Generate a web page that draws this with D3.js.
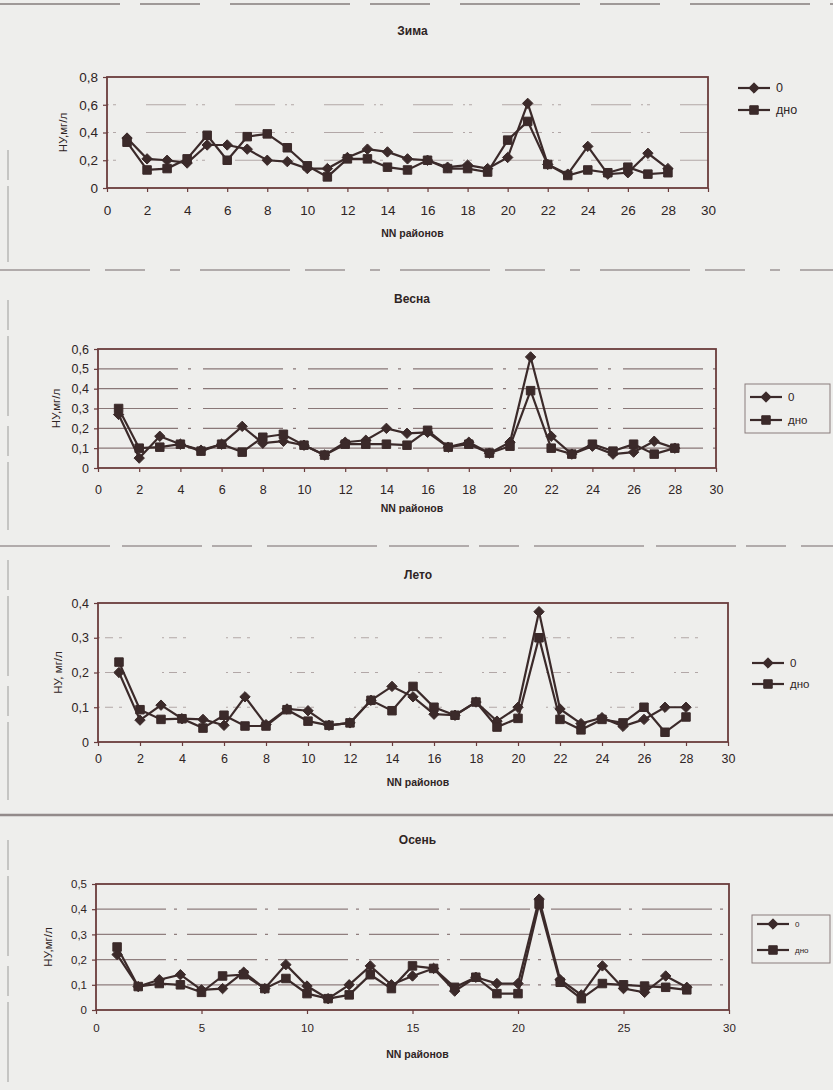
<!DOCTYPE html>
<meta charset="utf-8">
<style>
body, html { margin: 0; padding: 0; background: #eeeeec; }
svg { display: block; }
text { font-family: "Liberation Sans", Arial, sans-serif; fill: #2e2424; }
.title { font-weight: bold; font-size: 12px; }
.xlab { font-weight: bold; font-size: 10.5px; }
.series path.line { fill: none; stroke: #3b2a2a; stroke-width: 2.2; }
.series path.mark { fill: #3b2a2a; stroke: #3b2a2a; }
.frame { fill: none; stroke: #6a3c3c; stroke-width: 1.8; }
</style>
<svg></svg>
<script src="https://d3js.org/d3.v7.min.js"></script>
<script>

var W = 833, H = 1090;

var districts = [1,2,3,4,5,6,7,8,9,10,11,12,13,14,15,16,17,18,19,20,21,22,23,24,25,26,27,28];
var seriesNames = ['0', 'дно'];

// Зима
var zima0   = [0.36,0.21,0.20,0.18,0.31,0.31,0.28,0.20,0.19,0.14,0.14,0.22,0.28,0.26,0.21,0.20,0.15,0.165,0.14,0.22,0.61,0.17,0.10,0.30,0.10,0.11,0.25,0.14];
var zimaDno = [0.33,0.13,0.14,0.21,0.38,0.20,0.37,0.39,0.29,0.16,0.08,0.21,0.21,0.15,0.13,0.20,0.14,0.14,0.115,0.345,0.48,0.17,0.09,0.13,0.11,0.15,0.10,0.11];
// Весна
var vesna0   = [0.27,0.05,0.16,0.12,0.09,0.12,0.21,0.125,0.135,0.115,0.065,0.13,0.14,0.20,0.175,0.18,0.105,0.13,0.075,0.13,0.56,0.16,0.07,0.11,0.07,0.08,0.135,0.10];
var vesnaDno = [0.30,0.10,0.105,0.12,0.085,0.12,0.08,0.155,0.17,0.115,0.065,0.12,0.12,0.12,0.115,0.19,0.105,0.12,0.075,0.11,0.39,0.10,0.07,0.12,0.085,0.12,0.07,0.10];
// Лето
var leto0   = [0.20,0.063,0.106,0.067,0.065,0.048,0.13,0.05,0.095,0.09,0.048,0.055,0.12,0.16,0.13,0.08,0.077,0.115,0.06,0.10,0.375,0.095,0.053,0.07,0.045,0.065,0.10,0.10];
var letoDno = [0.23,0.093,0.065,0.067,0.04,0.077,0.046,0.046,0.093,0.06,0.048,0.055,0.12,0.09,0.16,0.10,0.077,0.115,0.043,0.068,0.30,0.065,0.035,0.065,0.055,0.10,0.028,0.072];
// Осень
var osen0   = [0.22,0.093,0.12,0.14,0.08,0.085,0.15,0.085,0.18,0.095,0.045,0.10,0.175,0.10,0.135,0.165,0.075,0.13,0.105,0.105,0.44,0.12,0.06,0.175,0.085,0.07,0.135,0.09];
var osenDno = [0.25,0.093,0.105,0.10,0.07,0.135,0.14,0.085,0.125,0.065,0.045,0.06,0.14,0.085,0.175,0.165,0.09,0.13,0.065,0.065,0.42,0.11,0.045,0.105,0.10,0.095,0.09,0.08];

var panels = [
  { title: 'Зима', ytitle: 'НУ,мг/л', s0: zima0, s1: zimaDno, yMax: 0.8, yStep: 0.2, xStep: 2,
    box: [107, 77, 708, 188], titleY: 35, xTickY: 213, xLabY: 237, yTitleX: 67, tickSize: 13.5,
    grid: { color: '#9a8a8a', dash: '2,4,3,30,40,10', width: 1, op: 0.7 },
    legend: { x: 738, y0: 88, y1: 110, fs: 12.5, frame: false } },
  { title: 'Весна', ytitle: 'НУ,мг/л', s0: vesna0, s1: vesnaDno, yMax: 0.6, yStep: 0.1, xStep: 2,
    box: [98, 349, 716, 468], titleY: 303, xTickY: 493, xLabY: 512, yTitleX: 60, tickSize: 12.5,
    grid: { color: '#7f6b6b', dash: '80,10,3,12', width: 1.2, op: 0.9 },
    legend: { x: 750, y0: 397, y1: 420, fs: 11.5, frame: [745, 384, 85, 49] } },
  { title: 'Лето', ytitle: 'НУ, мг/л', s0: leto0, s1: letoDno, yMax: 0.4, yStep: 0.1, xStep: 2,
    box: [98, 603, 728, 742], titleY: 579, xTickY: 762, xLabY: 786, yTitleX: 62, tickSize: 12.5,
    grid: { color: '#9a8a8a', dash: '2,5,8,6,3,40', width: 1, op: 0.7 },
    legend: { x: 752, y0: 663, y1: 684, fs: 11.5, frame: false } },
  { title: 'Осень', ytitle: 'НУ,мг/л', s0: osen0, s1: osenDno, yMax: 0.5, yStep: 0.1, xStep: 5,
    box: [96, 884, 729, 1010], titleY: 844, xTickY: 1032, xLabY: 1058, yTitleX: 52, tickSize: 11.5,
    grid: { color: '#7f6b6b', dash: '70,8,3,10', width: 1.2, op: 0.85 },
    legend: { x: 757, y0: 924, y1: 950, fs: 8, frame: [752, 915, 78, 48] } }
];

var svg = d3.select('svg').attr('width', W).attr('height', H);

// page separators from the scan
var seps = [[0, 4, 833, 2, '#8c8484', '120,20,60,30'], [0, 270, 833, 1.5, '#8a8080', '90,15,40,25,10,20'],
            [0, 546, 833, 1.5, '#8a8080', '110,12,80,10,40,15'], [0, 815, 833, 2.5, '#7c7272', null]];
seps.forEach(function (s) {
  svg.append('line').attr('x1', s[0]).attr('x2', s[2]).attr('y1', s[1]).attr('y2', s[1])
    .attr('stroke', s[4]).attr('stroke-width', s[3]).attr('stroke-dasharray', s[5]).attr('opacity', 0.8);
});
[[150, 262], [300, 530], [560, 800], [840, 1088]].forEach(function (v) {
  svg.append('line').attr('x1', 8).attr('x2', 8).attr('y1', v[0]).attr('y2', v[1])
    .attr('stroke', '#888').attr('stroke-width', 1).attr('stroke-dasharray', '30,6,80,10').attr('opacity', 0.8);
});

var fmt = function (v) { return v === 0 ? '0' : d3.format('.1f')(v).replace('.', ','); };
// Excel-style diamond: a square turned 45 degrees
var diamond = 'M0,-5.2L5.2,0L0,5.2L-5.2,0Z';
var square = d3.symbol().type(d3.symbolSquare).size(72)();

panels.forEach(function (p) {
  var g = svg.append('g');
  var x = d3.scaleLinear().domain([0, 30]).range([p.box[0], p.box[2]]);
  var y = d3.scaleLinear().domain([0, p.yMax]).range([p.box[3], p.box[1]]);
  var yTicks = d3.range(0, p.yMax + 1e-9, p.yStep);
  var xTicks = d3.range(0, 30 + 1e-9, p.xStep);
  var cx = (p.box[0] + p.box[2]) / 2;

  g.append('text').attr('class', 'title').attr('x', cx + 5).attr('y', p.titleY)
    .attr('text-anchor', 'middle').text(p.title);

  // gridlines
  g.append('g').selectAll('line').data(yTicks.filter(function (t) { return t > 0 && t < p.yMax - 1e-9; }))
    .enter().append('line')
    .attr('x1', p.box[0]).attr('x2', p.box[2])
    .attr('y1', function (d) { return y(d); }).attr('y2', function (d) { return y(d); })
    .attr('stroke', p.grid.color).attr('stroke-width', p.grid.width)
    .attr('stroke-dasharray', p.grid.dash).attr('opacity', p.grid.op);

  // axes
  var yAxis = d3.axisLeft(y).tickValues(yTicks).tickFormat(fmt).tickSize(4).tickPadding(5);
  var xAxis = d3.axisBottom(x).tickValues(xTicks).tickFormat(d3.format('d')).tickSize(4).tickPadding(p.xTickY - p.box[3] - 12);
  var ya = g.append('g').attr('transform', 'translate(' + p.box[0] + ',0)').call(yAxis);
  var xa = g.append('g').attr('transform', 'translate(0,' + p.box[3] + ')').call(xAxis);
  [ya, xa].forEach(function (a) {
    a.select('.domain').remove();
    a.selectAll('line').attr('stroke', '#6a3c3c').attr('stroke-width', 1.2);
    a.selectAll('text').style('font-size', p.tickSize + 'px').attr('fill', '#2e2424');
  });

  g.append('rect').attr('class', 'frame').attr('x', p.box[0]).attr('y', p.box[1])
    .attr('width', p.box[2] - p.box[0]).attr('height', p.box[3] - p.box[1]);

  g.append('text').attr('class', 'xlab').attr('x', cx + 5).attr('y', p.xLabY)
    .attr('text-anchor', 'middle').text('NN районов');

  g.append('text').attr('class', 'xlab')
    .attr('transform', 'translate(' + p.yTitleX + ',' + ((p.box[1] + p.box[3]) / 2) + ') rotate(-90)')
    .attr('text-anchor', 'middle').style('font-size', '11.5px').style('font-weight', 'normal').text(p.ytitle);

  var line = d3.line().x(function (d, i) { return x(districts[i]); }).y(function (d) { return y(d); });
  [[p.s0, diamond], [p.s1, square]].forEach(function (s) {
    var sg = g.append('g').attr('class', 'series');
    sg.append('path').attr('class', 'line').attr('d', line(s[0]));
    sg.selectAll('path.mark').data(s[0]).enter().append('path').attr('class', 'mark')
      .attr('transform', function (d, i) { return 'translate(' + x(districts[i]) + ',' + y(d) + ')'; })
      .attr('d', s[1]);
  });

  // legend
  var L = p.legend;
  if (L.frame) {
    g.append('rect').attr('x', L.frame[0]).attr('y', L.frame[1]).attr('width', L.frame[2]).attr('height', L.frame[3])
      .attr('fill', 'none').attr('stroke', '#8a7c7c').attr('stroke-width', 1);
  }
  [[L.y0, diamond, seriesNames[0]], [L.y1, square, seriesNames[1]]].forEach(function (e) {
    var lg = g.append('g').attr('class', 'series');
    lg.append('path').attr('class', 'line').attr('d', 'M' + L.x + ',' + e[0] + 'H' + (L.x + 32));
    lg.append('path').attr('class', 'mark').attr('transform', 'translate(' + (L.x + 16) + ',' + e[0] + ')').attr('d', e[1]);
    lg.append('text').attr('x', L.x + 38).attr('y', e[0]).attr('dy', '0.35em')
      .style('font-size', L.fs + 'px').text(e[2]);
  });
});

</script>
